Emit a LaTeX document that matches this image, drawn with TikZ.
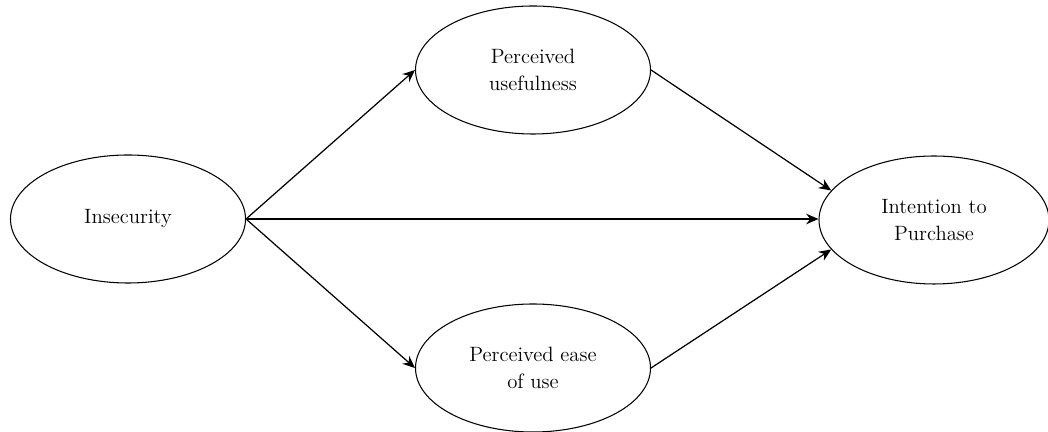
\documentclass[tikz,border=0pt]{standalone}
\usepackage{tikz}
\usetikzlibrary{shapes.geometric, arrows.meta}

\begin{document}
\begin{tikzpicture}[
          latent/.style={ellipse, draw, line width=0.6pt, inner sep=0pt,
                         minimum width=4.7cm, minimum height=2.56cm,
                         align=center, font=\fontsize{11.8}{15.5}\selectfont},
          arr/.style={-{Stealth[length=7pt, width=6pt]}, line width=0.7pt}
        ]
        \useasboundingbox (0,0) rectangle (20.96,8.64);

        % Constructs
        \node[latent] (ins) at (2.56, 4.26) {Insecurity};
        \node[latent] (pu)  at (10.66, 7.24) {Perceived\\usefulness};
        \node[latent] (peu) at (10.66, 1.28) {Perceived ease\\of use};
        \node[latent, minimum width=4.6cm] (ip) at (18.68, 4.24)
              {Intention to\\Purchase};

        % Paths
        \draw[arr] (ins.east) -- (pu.west);
        \draw[arr] (ins.east) -- (peu.west);
        \draw[arr] (ins.east) -- (ins.east -| ip.west);
        \draw[arr] (pu.east) -- (ip.164);
        \draw[arr] (peu.east) -- (ip.196);
      \end{tikzpicture}
\end{document}
